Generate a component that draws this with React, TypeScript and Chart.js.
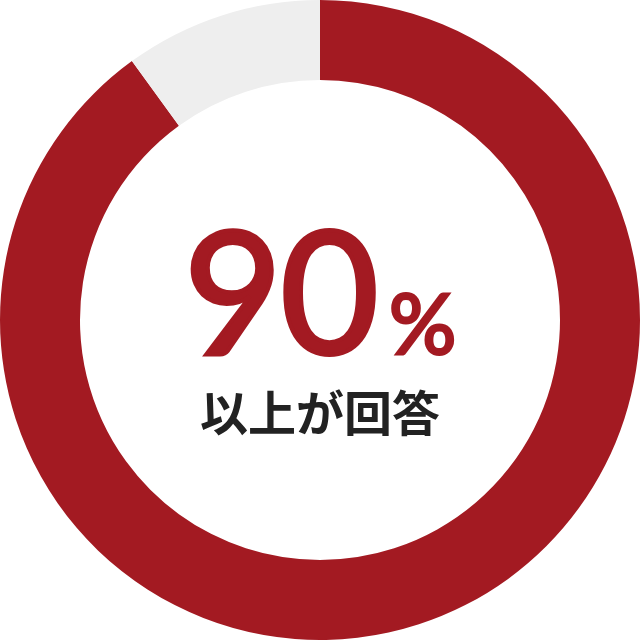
import React, { useEffect, useRef } from "react";
import { Chart, registerables } from "chart.js";

Chart.register(...registerables);

const labels = ["以上が回答", "その他"];
const values = [90, 10];
const colors = ["#A31A22", "#EEEEEE"];
const bigNumber = "90";
const unit = "%";
const caption = "以上が回答";

export default function App() {
  const ref = useRef<HTMLCanvasElement | null>(null);
  useEffect(() => {
    document.body.style.margin = "0";
    const chart = new Chart(ref.current!, {
      type: "doughnut",
      data: {
        labels,
        datasets: [{ data: values, backgroundColor: colors, borderWidth: 0, hoverOffset: 0 }],
      },
      options: {
        responsive: false,
        animation: false,
        cutout: "75%",
        layout: { padding: 0 },
        plugins: { legend: { display: false }, tooltip: { enabled: false } },
      },
    });
    return () => chart.destroy();
  }, []);
  return (
    <div style={{ position: "fixed", left: 0, top: 0, width: 640, height: 640, background: "#fff" }}>
      <canvas ref={ref} width={640} height={640} style={{ display: "block" }} />
      <div
        style={{
          position: "absolute",
          left: 0,
          width: 640,
          top: 203,
          display: "flex",
          justifyContent: "center",
          alignItems: "baseline",
          color: colors[0],
          fontFamily: "Lato, 'Noto Sans', sans-serif",
          lineHeight: 1,
        }}
      >
        <span
          style={{
            fontSize: 170,
            fontWeight: 400,
            letterSpacing: -2,
            WebkitTextStroke: `4px ${colors[0]}`,
          }}
        >
          {bigNumber}
        </span>
        <span
          style={{
            fontSize: 84,
            fontWeight: 400,
            marginLeft: 12,
            WebkitTextStroke: `3px ${colors[0]}`,
          }}
        >
          {unit}
        </span>
      </div>
      <div
        style={{
          position: "absolute",
          left: 0,
          width: 640,
          top: 386,
          textAlign: "center",
          color: "#222222",
          fontFamily: "'Noto Sans CJK JP', sans-serif",
          fontWeight: 700,
          fontSize: 48,
          lineHeight: 1,
        }}
      >
        {caption}
      </div>
    </div>
  );
}
